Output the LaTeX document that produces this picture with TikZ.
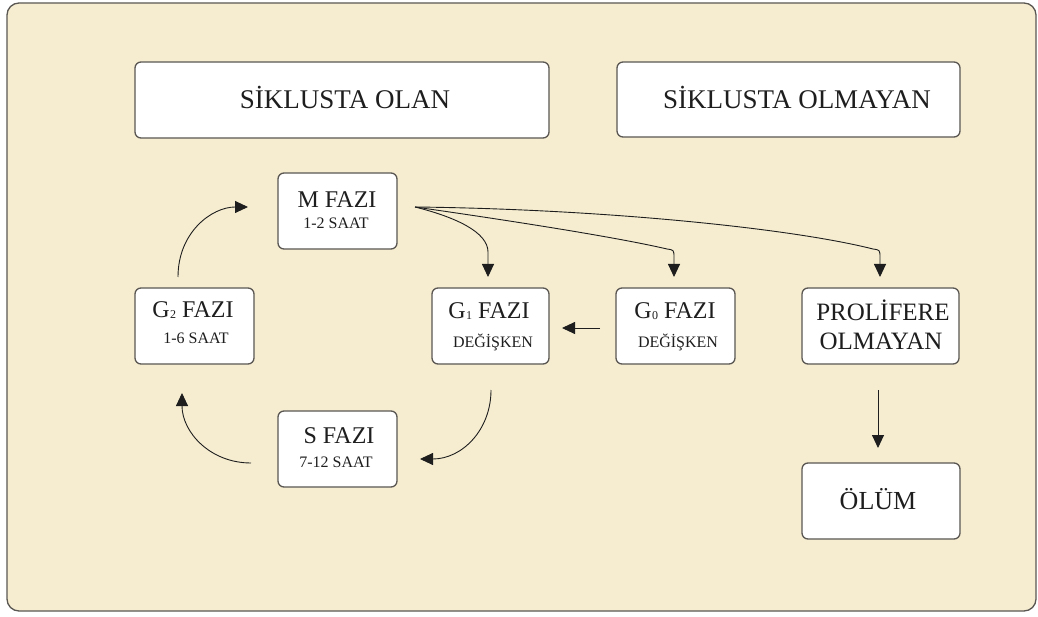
\documentclass[tikz,border=0pt]{standalone}
\usepackage{fontspec}
\setmainfont{Liberation Serif}
\usetikzlibrary{arrows.meta}
\definecolor{bgcream}{HTML}{F6EDD1}
\definecolor{edgegray}{HTML}{5A5752}
\definecolor{inkgray}{HTML}{1E1E1E}
\newcommand{\subdig}[1]{\kern0.3pt{\fontsize{12}{12}\selectfont\raisebox{-1pt}{#1}}}
\begin{document}
\begin{tikzpicture}[x=1pt,y=-1pt,
  box/.style={draw=edgegray, line width=1.3pt, fill=white, rounded corners=6pt, inner sep=0pt},
  lbl/.style={inner sep=0pt, anchor=base, text=inkgray},
  big/.style={lbl, font=\fontsize{27}{27}\selectfont},
  mid/.style={lbl, font=\fontsize{24}{24}\selectfont},
  small/.style={lbl, font=\fontsize{16}{16}\selectfont},
  arr/.style={draw=inkgray, line width=0.9pt, -{Triangle[length=13pt,width=12pt]}},
]
\useasboundingbox (0,0) rectangle (1038,617);
\draw[draw=edgegray, line width=1.3pt, fill=bgcream, rounded corners=12pt] (7,3) rectangle (1036,611);

% boxes
\node[box, minimum width=414pt, minimum height=76pt] (olan) at (342,100) {};
\node[box, minimum width=343pt, minimum height=75pt] (olmayan) at (788.5,99.5) {};
\node[box, minimum width=119pt, minimum height=76pt] (m) at (337.5,211) {};
\node[box, minimum width=119pt, minimum height=76pt] (g2) at (194.5,326) {};
\node[box, minimum width=117pt, minimum height=76pt] (g1) at (490.5,326) {};
\node[box, minimum width=119pt, minimum height=76pt] (g0) at (675.5,326) {};
\node[box, minimum width=157pt, minimum height=76pt] (pro) at (880.5,326) {};
\node[box, minimum width=119pt, minimum height=76pt] (s) at (337.5,449) {};
\node[box, minimum width=158pt, minimum height=76pt] (olum) at (881,501) {};

% texts
\node[big] (tolan) at (345,109) {SİKLUSTA OLAN};
\node[big] (tolmayan) at (797,109) {SİKLUSTA OLMAYAN};
\node[mid] (tm1) at (337,208) {M FAZI};
\node[small] (tm2) at (336,229) {1-2 SAAT};
\node[mid] (tg21) at (193,318) {G\subdig{2} FAZI};
\node[small] (tg22) at (196,344) {1-6 SAAT};
\node[mid] (tg11) at (489,319) {G\subdig{1} FAZI};
\node[small] (tg12) at (493,347) {DEĞİŞKEN};
\node[mid] (tg01) at (675,319) {G\subdig{0} FAZI};
\node[small] (tg02) at (678,347) {DEĞİŞKEN};
\node[lbl, font=\fontsize{25}{25}\selectfont] (tp1) at (883,321) {PROLİFERE};
\node[lbl, font=\fontsize{25}{25}\selectfont] (tp2) at (881,349) {OLMAYAN};
\node[mid] (ts1) at (339,443) {S FAZI};
\node[small] (ts2) at (336,467) {7-12 SAAT};
\node[lbl, font=\fontsize{26}{26}\selectfont] (tolum) at (878,509) {ÖLÜM};

% connector end points
\coordinate (g2out) at (178,277);
\coordinate (min) at (248,207);
\coordinate (mout) at (415,207);
\coordinate (g1in) at (488,277);
\coordinate (g0in) at (674,277);
\coordinate (proin) at (880,277);
\coordinate (g0out) at (600,328);
\coordinate (g1right) at (562,328);
\coordinate (g1out) at (491,390);
\coordinate (sin) at (420,459);
\coordinate (sout) at (251,463);
\coordinate (g2in) at (182,393);
\coordinate (proout) at (878,390);
\coordinate (olumin) at (878,448);

% connectors
\draw[arr] (g2out) .. controls (178,232) and (212,207) .. (min);
\draw[arr] (mout) .. controls (455,217) and (488,232) .. (488,252) -- (g1in);
\draw[arr] (mout) .. controls (520,222) and (620,238) .. (667,249) .. controls (674,250) .. (674,258) -- (g0in);
\draw[arr] (mout) .. controls (600,209) and (790,228) .. (873,249) .. controls (880,250) .. (880,258) -- (proin);
\draw[arr] (g0out) -- (g1right);
\draw[arr] (g1out) .. controls (491,430) and (462,459) .. (sin);
\draw[arr] (sout) .. controls (210,463) and (182,432) .. (g2in);
\draw[arr] (proout) -- (olumin);
\end{tikzpicture}
\end{document}
